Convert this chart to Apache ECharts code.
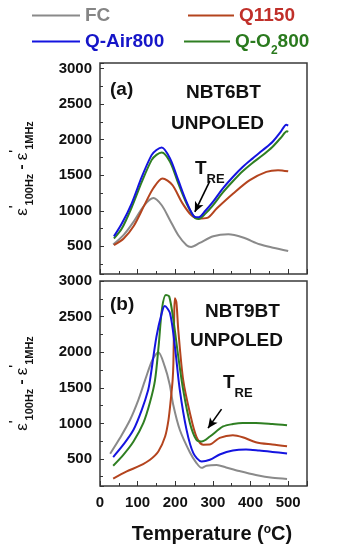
<!DOCTYPE html>
<html>
<head>
<meta charset="utf-8">
<script src="https://cdn.jsdelivr.net/npm/echarts@6/dist/echarts.min.js"></script>
<style>html,body{margin:0;padding:0;background:#fff;}#c{width:344px;height:550px;}</style>
</head>
<body>
<div id="c"></div>
<script>
// ---- Panel (a) NBT6BT ----
const tA_FC   = [35, 63, 90, 118, 142, 164, 186, 208, 230, 242, 265, 301, 341, 380, 424, 460, 500];
const vA_FC   = [525, 660, 850, 1080, 1180, 1078, 867, 655, 514, 490, 547, 641, 669, 623, 528, 480, 434];
const tA_Q1150 = [37, 63, 90, 118, 142, 166, 192, 218, 243, 262, 285, 310, 354, 398, 442, 473, 500];
const vA_Q1150 = [515, 610, 790, 1080, 1320, 1455, 1365, 1115, 935, 890, 900, 1032, 1243, 1431, 1548, 1572, 1555];
const tA_Air  = [37, 58, 84, 111, 137, 150, 164, 186, 208, 230, 252, 262, 280, 300, 326, 353, 379, 405, 432, 458, 480, 495, 500];
const vA_Air  = [640, 820, 1102, 1477, 1783, 1855, 1892, 1737, 1431, 1125, 913, 908, 1000, 1124, 1312, 1476, 1616, 1734, 1851, 1968, 2109, 2212, 2200];
const tA_O2   = [37, 58, 84, 111, 137, 150, 164, 186, 208, 230, 252, 262, 280, 300, 326, 353, 379, 405, 432, 458, 480, 497, 500];
const vA_O2   = [610, 750, 1046, 1407, 1713, 1787, 1821, 1689, 1384, 1102, 899, 885, 960, 1077, 1255, 1415, 1556, 1673, 1781, 1898, 2024, 2118, 2110];
// ---- Panel (b) NBT9BT ----
const tB_FC   = [27, 53, 80, 102, 120, 140, 155, 172, 185, 195, 212, 239, 256, 270, 283, 310, 335, 370, 414, 458, 497];
const vB_FC   = [573, 793, 1050, 1330, 1611, 1900, 2000, 1800, 1550, 1250, 910, 590, 445, 375, 405, 415, 380, 330, 275, 235, 220];
const tB_Q1150 = [35, 71, 106, 133, 155, 173, 182, 188, 193, 195, 197, 199, 203, 208, 221, 239, 256, 274, 291, 318, 353, 379, 414, 458, 497];
const vB_Q1150 = [223, 325, 405, 489, 605, 816, 1050, 1330, 1611, 1845, 2470, 2756, 2700, 2312, 1610, 1143, 815, 700, 702, 796, 833, 805, 735, 702, 679];
const tB_Air  = [35, 62, 89, 111, 128, 133, 150, 164, 172, 186, 199, 212, 230, 248, 270, 292, 318, 353, 388, 423, 458, 497];
const vB_Air  = [527, 700, 910, 1190, 1470, 1610, 2218, 2546, 2648, 2546, 2078, 1470, 909, 582, 465, 489, 562, 618, 632, 618, 599, 576];
const tB_O2   = [35, 62, 89, 115, 133, 146, 156, 165, 175, 184, 195, 208, 221, 239, 256, 270, 292, 327, 353, 379, 414, 458, 497];
const vB_O2   = [405, 558, 745, 1003, 1300, 1600, 2100, 2620, 2802, 2780, 2452, 1937, 1470, 1003, 769, 745, 815, 956, 990, 1006, 1006, 992, 974];
// ---- Axes ----
const xLabels = [0, 100, 200, 300, 400, 500];
const yLabels = [500, 1000, 1500, 2000, 2500, 3000];
const seriesNames = ['FC', 'Q1150', 'Q-Air800', 'Q-O2800'];

const lineColors = {'FC': '#8a8a8a', 'Q1150': '#b4441e', 'Q-Air800': '#1414e0', 'Q-O2800': '#2f7f22'};
const textColors = {'FC': '#858585', 'Q1150': '#c0302a', 'Q-Air800': '#1515c8', 'Q-O2800': '#2a7a1e'};

const zip = (t, v) => t.map((x, i) => [x, v[i]]);
const FONT = '"Liberation Sans", Arial, sans-serif';

const chart = echarts.init(document.getElementById('c'), null, {renderer: 'canvas'});

function yAxisCfg(gi, min, max) {
  return {
    type: 'value', gridIndex: gi, min: min, max: max, splitNumber: 6,
    axisLine: {show: false},
    axisTick: {show: true, inside: true, length: 4, lineStyle: {color: '#333', width: 1}},
    minorTick: {show: true, splitNumber: 2, length: 3, lineStyle: {color: '#333', width: 1}},
    splitLine: {show: false},
    minorSplitLine: {show: false},
    axisLabel: {
      margin: 8, color: '#111', fontFamily: FONT, fontWeight: 'bold', fontSize: 15,
      formatter: v => yLabels.indexOf(v) >= 0 ? String(v) : ''
    },
    name: '{e|ε}{p|\'}{s|100Hz}{m| - }{e|ε}{p|\'}{s|1MHz}',
    nameLocation: 'middle', nameGap: 65, nameRotate: 90,
    nameTextStyle: {
      color: '#111', fontFamily: FONT,
      rich: {
        e: {fontSize: 17, fontFamily: FONT, color: '#111', lineHeight: 26},
        p: {fontSize: 12, fontFamily: FONT, color: '#111', fontWeight: 'bold', verticalAlign: 'top', lineHeight: 12},
        s: {fontSize: 11, fontFamily: FONT, fontWeight: 'bold', color: '#111', verticalAlign: 'bottom', lineHeight: 11},
        m: {fontSize: 15, fontFamily: FONT, fontWeight: 'bold', color: '#111', lineHeight: 26}
      }
    }
  };
}
function xAxisCfg(gi, showLabels) {
  const c = {
    type: 'value', gridIndex: gi, min: 0, max: 550, splitNumber: 5,
    axisLine: {show: false},
    axisTick: {show: true, inside: true, length: 5, lineStyle: {color: '#333', width: 1}},
    minorTick: {show: true, splitNumber: 2, length: 3, lineStyle: {color: '#333', width: 1}},
    splitLine: {show: false},
    axisLabel: {
      show: showLabels, margin: 9, color: '#111', fontFamily: FONT, fontWeight: 'bold', fontSize: 15,
      formatter: v => xLabels.indexOf(v) >= 0 ? String(v) : ''
    }
  };
  if (showLabels) {
    c.name = 'Temperature ({o|o}C)';
    c.nameLocation = 'middle';
    c.nameGap = 38;
    c.nameTextStyle = {
      color: '#111', fontFamily: FONT, fontWeight: 'bold', fontSize: 20,
      padding: [0, 0, 0, 17],
      rich: {o: {fontSize: 12, fontFamily: FONT, fontWeight: 'bold', color: '#111', verticalAlign: 'top', lineHeight: 12}}
    };
  }
  return c;
}
function lineSeries(name, gi, t, v) {
  return {
    name: name, type: 'line', xAxisIndex: gi, yAxisIndex: gi,
    data: zip(t, v), smooth: 0.3, symbol: 'none', sampling: null,
    lineStyle: {color: lineColors[name], width: 2},
    itemStyle: {color: lineColors[name]},
    z: name === 'Q-Air800' ? 5 : (name === 'FC' ? 2 : 3)
  };
}
function arrowLine(name, gi, t, v, from, to) {
  const s = lineSeries(name, gi, t, v);
  s.markLine = {
    silent: true, animation: false,
    symbol: ['none', 'arrow'], symbolSize: [7, 10],
    label: {show: false},
    lineStyle: {color: '#000', width: 1.6, type: 'solid'},
    data: [[{coord: from}, {coord: to}]]
  };
  return s;
}
function legendCfg(name, left, top, iw, label) {
  return {
    data: [name], left: left, top: top, padding: 0, itemWidth: iw, itemHeight: 12,
    icon: 'path://M0,5 L48,5 L48,7 L0,7 Z',
    itemStyle: {color: lineColors[name]},
    textStyle: {
      color: textColors[name], fontFamily: FONT, fontWeight: 'bold', fontSize: 19,
      rich: {
        a: {color: textColors[name], fontFamily: FONT, fontWeight: 'bold', fontSize: 19},
        s: {color: textColors[name], fontFamily: FONT, fontWeight: 'bold', fontSize: 12, verticalAlign: 'bottom', lineHeight: 12, padding: [0, 0, -6, 0]}
      }
    },
    formatter: () => label,
    selectedMode: false
  };
}
function txt(x, y, text, size, rich) {
  const st = {text: text, x: 0, y: 0, fill: '#111', font: 'bold ' + size + 'px ' + FONT, textVerticalAlign: 'middle', verticalAlign: 'middle'};
  if (rich) st.rich = rich;
  return {type: 'text', x: x, y: y, style: st, z: 10};
}
const treRich = {
  t: {fontSize: 19, fontWeight: 'bold', fontFamily: FONT, fill: '#111', color: '#111', lineHeight: 22},
  s: {fontSize: 13, fontWeight: 'bold', fontFamily: FONT, fill: '#111', color: '#111', verticalAlign: 'bottom', lineHeight: 13, padding: [0, 0, -6, 0]}
};

chart.setOption({
  animation: false,
  backgroundColor: '#fff',
  grid: [
    {left: 100, top: 63, width: 207, height: 211, show: true, borderColor: '#3a3a3a', borderWidth: 1.5, backgroundColor: 'transparent'},
    {left: 100, top: 281, width: 207, height: 205, show: true, borderColor: '#3a3a3a', borderWidth: 1.5, backgroundColor: 'transparent'}
  ],
  xAxis: [xAxisCfg(0, false), xAxisCfg(1, true)],
  yAxis: [yAxisCfg(0, 110, 3080), yAxisCfg(1, 120, 3000)],
  legend: [
    legendCfg('FC', 32, 6, 48, 'FC'),
    legendCfg('Q1150', 188, 6, 46, 'Q1150'),
    legendCfg('Q-Air800', 32, 32, 48, 'Q-Air800'),
    legendCfg('Q-O2800', 184, 32, 46, '{a|Q-O}{s|2}{a|800}')
  ],
  series: [
    lineSeries('FC', 0, tA_FC, vA_FC),
    lineSeries('Q1150', 0, tA_Q1150, vA_Q1150),
    lineSeries('Q-O2800', 0, tA_O2, vA_O2),
    arrowLine('Q-Air800', 0, tA_Air, vA_Air, [292, 1421], [252, 984]),
    lineSeries('FC', 1, tB_FC, vB_FC),
    lineSeries('Q1150', 1, tB_Q1150, vB_Q1150),
    lineSeries('Q-Air800', 1, tB_Air, vB_Air),
    arrowLine('Q-O2800', 1, tB_O2, vB_O2, [323, 1200], [287, 933])
  ],
  graphic: [
    txt(110, 90, '(a)', 19),
    txt(186, 93, 'NBT6BT', 19),
    txt(171, 124, 'UNPOLED', 19),
    txt(195, 169, '{t|T}{s|RE}', 19, treRich),
    txt(110, 305, '(b)', 19),
    txt(205, 312, 'NBT9BT', 19),
    txt(190, 341, 'UNPOLED', 19),
    txt(223, 383, '{t|T}{s|RE}', 19, treRich)
  ]
});
</script>
</body>
</html>
